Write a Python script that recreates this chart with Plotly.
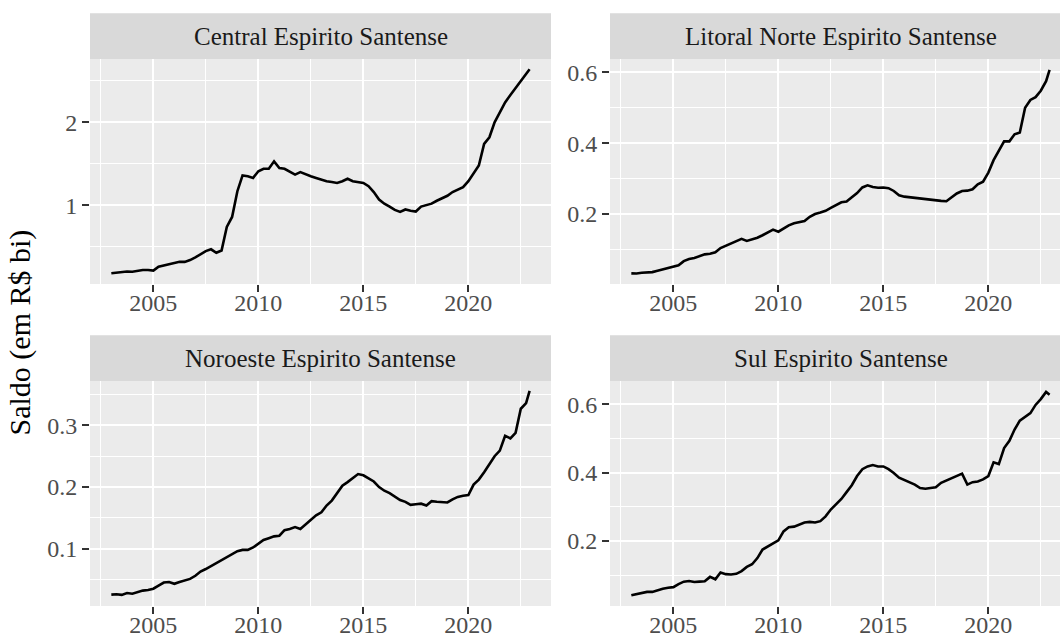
import pandas as pd
import plotly.graph_objects as go

# ---- data (quarterly readings, R$ bi) ----
DATES = list(pd.date_range("2003-01-01", periods=80, freq="QS").strftime("%Y-%m-%d")) + ["2022-12-01"]

REGIONS = ["Central Espirito Santense", "Litoral Norte Espirito Santense",
           "Noroeste Espirito Santense", "Sul Espirito Santense"]

central = [0.181, 0.188, 0.195, 0.203, 0.200, 0.215, 0.221, 0.221, 0.213, 0.260,
           0.275, 0.292, 0.308, 0.320, 0.318, 0.340, 0.372, 0.410, 0.448, 0.470,
           0.428, 0.455, 0.740, 0.860, 1.170, 1.360, 1.350, 1.330, 1.410, 1.440,
           1.440, 1.530, 1.450, 1.440, 1.410, 1.370, 1.400, 1.370, 1.350, 1.330,
           1.310, 1.290, 1.280, 1.270, 1.290, 1.320, 1.290, 1.280, 1.270, 1.230,
           1.160, 1.070, 1.020, 0.985, 0.945, 0.920, 0.950, 0.935, 0.925, 0.985,
           1.000, 1.020, 1.055, 1.085, 1.115, 1.160, 1.190, 1.220, 1.290, 1.390,
           1.480, 1.740, 1.820, 2.000, 2.125, 2.240, 2.330, 2.410, 2.500, 2.580,
           2.640]

litoral = [0.0325, 0.032, 0.034, 0.035, 0.036, 0.040, 0.044, 0.049, 0.051, 0.055,
           0.067, 0.073, 0.076, 0.081, 0.086, 0.088, 0.092, 0.104, 0.110, 0.118,
           0.123, 0.130, 0.124, 0.128, 0.133, 0.140, 0.148, 0.156, 0.150, 0.160,
           0.168, 0.174, 0.176, 0.180, 0.192, 0.200, 0.204, 0.209, 0.217, 0.226,
           0.233, 0.235, 0.246, 0.259, 0.275, 0.281, 0.276, 0.274, 0.275, 0.273,
           0.265, 0.253, 0.249, 0.247, 0.246, 0.244, 0.243, 0.241, 0.239, 0.237,
           0.236, 0.247, 0.258, 0.265, 0.266, 0.270, 0.284, 0.291, 0.317, 0.352,
           0.380, 0.405, 0.405, 0.425, 0.430, 0.500, 0.522, 0.530, 0.548, 0.575,
           0.607]

noroeste = [0.0254, 0.026, 0.025, 0.028, 0.027, 0.030, 0.032, 0.033, 0.035, 0.040,
            0.045, 0.046, 0.043, 0.046, 0.048, 0.051, 0.056, 0.063, 0.067, 0.072,
            0.077, 0.082, 0.087, 0.091, 0.096, 0.098, 0.098, 0.102, 0.108, 0.114,
            0.117, 0.120, 0.121, 0.130, 0.132, 0.135, 0.132, 0.139, 0.147, 0.154,
            0.159, 0.170, 0.178, 0.190, 0.202, 0.208, 0.215, 0.221, 0.219, 0.214,
            0.209, 0.200, 0.194, 0.190, 0.184, 0.179, 0.176, 0.171, 0.172, 0.173,
            0.170, 0.177, 0.176, 0.176, 0.175, 0.180, 0.184, 0.186, 0.187, 0.204,
            0.212, 0.224, 0.237, 0.250, 0.259, 0.283, 0.279, 0.288, 0.327, 0.336,
            0.356]

sul = [0.041, 0.044, 0.047, 0.051, 0.051, 0.056, 0.060, 0.063, 0.065, 0.074,
       0.081, 0.083, 0.080, 0.081, 0.082, 0.095, 0.088, 0.108, 0.103, 0.102,
       0.104, 0.112, 0.124, 0.132, 0.150, 0.175, 0.184, 0.192, 0.202, 0.228,
       0.240, 0.242, 0.248, 0.254, 0.256, 0.254, 0.258, 0.272, 0.292, 0.308,
       0.323, 0.343, 0.363, 0.390, 0.410, 0.418, 0.422, 0.418, 0.418, 0.410,
       0.399, 0.385, 0.378, 0.373, 0.365, 0.355, 0.353, 0.355, 0.357, 0.370,
       0.377, 0.382, 0.390, 0.397, 0.365, 0.372, 0.374, 0.380, 0.390, 0.430,
       0.425, 0.472, 0.493, 0.526, 0.552, 0.563, 0.574, 0.598, 0.615, 0.636,
       0.628]

SERIES = [central, litoral, noroeste, sul]
YTICK_STEP = [1.0, 0.2, 0.1, 0.2]
YRANGES = [[0.052, 2.763], [0.0024, 0.6376], [0.007, 0.372], [0.0098, 0.668]]

# ---- layout geometry (pixels) ----
W, H = 1060, 639
COLS = [(90, 551), (610, 1071)]       # panel x extents (right column is cut by the frame)
ROWS = [(59, 284), (381, 606)]        # panel y extents
STRIP_H = 45.7
FONT = "Liberation Serif"

def px(x):
    return x / W

def py(y):
    return 1 - y / H

fig = go.Figure()
layout = dict(width=W, height=H, margin=dict(l=0, r=0, t=0, b=0, autoexpand=False),
              paper_bgcolor="white", plot_bgcolor="#EBEBEB", showlegend=False,
              font=dict(family=FONT, color="#4D4D4D"))
shapes, annotations = [], []

XR_LEFT = "2001-12-26"
XR_RIGHT = ["2023-12-08", "2023-05-31"]

for i, (name, vals) in enumerate(zip(REGIONS, SERIES)):
    r, c = divmod(i, 2)
    n = i + 1
    xa = "x" if n == 1 else f"x{n}"
    ya = "y" if n == 1 else f"y{n}"
    fig.add_trace(go.Scatter(x=DATES, y=vals, mode="lines", xaxis=xa, yaxis=ya,
                             line=dict(color="black", width=2.6), hoverinfo="skip",
                             cliponaxis=True))
    x0, x1 = COLS[c]
    y0, y1 = ROWS[r]
    xd = [px(x0), min(1.0, px(x1))]
    yd = [py(y1), py(y0)]
    step = YTICK_STEP[i]
    layout["xaxis" if n == 1 else f"xaxis{n}"] = dict(
        domain=xd, anchor=ya, type="date", range=[XR_LEFT, XR_RIGHT[c]],
        tick0="2005-01-01", dtick="M60", tickformat="%Y", automargin=False,
        showgrid=True, gridcolor="white", gridwidth=2.2, zeroline=False,
        ticks="outside", ticklen=7, tickwidth=2, tickcolor="#333333",
        ticklabelstandoff=-10,
        tickfont=dict(family=FONT, size=24, color="#4D4D4D"),
        minor=dict(tick0="2002-07-02", dtick="M60", showgrid=True,
                   gridcolor="white", gridwidth=1.1, ticks=""),
        showline=False, fixedrange=True)
    layout["yaxis" if n == 1 else f"yaxis{n}"] = dict(
        domain=yd, anchor=xa, range=YRANGES[i], tick0=0, dtick=step, automargin=False,
        showgrid=True, gridcolor="white", gridwidth=2.2, zeroline=False,
        ticks="outside", ticklen=7, tickwidth=2, tickcolor="#333333",
        tickfont=dict(family=FONT, size=24, color="#4D4D4D"),
        minor=dict(tick0=step / 2, dtick=step, showgrid=True,
                   gridcolor="white", gridwidth=1.1, ticks=""),
        showline=False, fixedrange=True)
    # strip
    shapes.append(dict(type="rect", xref="paper", yref="paper",
                       x0=px(x0), x1=min(1.0, px(x1)),
                       y0=py(y0), y1=py(y0 - STRIP_H),
                       fillcolor="#D9D9D9", line=dict(width=0), layer="below"))
    annotations.append(dict(text=name, xref="paper", yref="paper",
                            x=px((x0 + x1) / 2), y=py(y0 - STRIP_H / 2),
                            xanchor="center", yanchor="middle", showarrow=False,
                            font=dict(family=FONT, size=25, color="#1A1A1A")))

annotations.append(dict(text="Saldo (em R$ bi)", xref="paper", yref="paper",
                        x=px(19), y=py((ROWS[0][0] + ROWS[1][1]) / 2),
                        xanchor="center", yanchor="middle", textangle=-90,
                        showarrow=False, font=dict(family=FONT, size=30, color="black")))

layout["shapes"] = shapes
layout["annotations"] = annotations
fig.update_layout(**layout)
fig.write_html("out.html", config={"displayModeBar": False},
               post_script="document.body.style.margin='0';document.body.style.overflow='hidden';")
